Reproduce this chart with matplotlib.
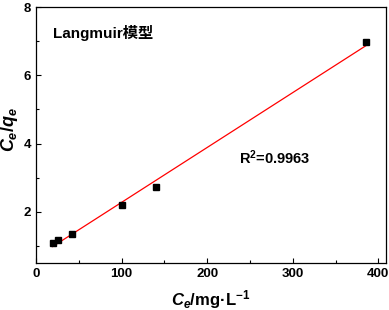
import numpy as np
import matplotlib
matplotlib.use("Agg")
import matplotlib.pyplot as plt
from matplotlib.ticker import MultipleLocator

plt.rcParams['font.family'] = ['Liberation Sans', 'Noto Sans CJK SC', 'DejaVu Sans']
plt.rcParams['mathtext.fontset'] = 'custom'
plt.rcParams['mathtext.it'] = 'Liberation Sans:bold:italic'
plt.rcParams['mathtext.rm'] = 'Liberation Sans:bold'
plt.rcParams['mathtext.bf'] = 'Liberation Sans:bold'

ce = [19.4, 25.2, 41.9, 100.6, 140.2, 386.0]
ce_qe = [1.08, 1.18, 1.35, 2.19, 2.72, 6.96]
x_ticks = [0, 100, 200, 300, 400]
y_ticks = [2, 4, 6, 8]
model_label = "Langmuir模型"
r2_label = "R$^{2}$=0.9963"

fig = plt.figure(figsize=(3.89, 3.10), dpi=100)
ax = fig.add_axes([36/389, 1 - 263/310, (386-36)/389, (263-7)/310])

slope, intercept = np.polyfit(ce, ce_qe, 1)
xf = np.array([min(ce), max(ce)])
ax.plot(xf, slope * xf + intercept, color='red', lw=0.9, zorder=2)
ax.plot(ce, ce_qe, 's', color='black', ms=4.3, zorder=3)

ax.set_xlim(0, 409)
ax.set_ylim(0.5, 8)
ax.set_xticks(x_ticks)
ax.set_yticks(y_ticks)
ax.xaxis.set_minor_locator(MultipleLocator(50))
ax.yaxis.set_minor_locator(MultipleLocator(1))
ax.tick_params(which='both', direction='in', labelsize=9.5, width=0.8)
ax.tick_params(which='major', length=3.5)
ax.tick_params(which='minor', length=2)
for lab in ax.get_xticklabels() + ax.get_yticklabels():
    lab.set_fontweight('bold')
for s in ax.spines.values():
    s.set_linewidth(0.9)

ax.set_xlabel(r"$C_e$/mg·L$^{-1}$", fontsize=12, fontweight='bold', labelpad=6)
ax.set_ylabel(r"$C_e$/$q_e$", fontsize=13, fontweight='bold',
              va='center', ha='center')
ax.yaxis.set_label_coords((10 - 36) / 350, (263 - 129) / 256)

ax.text(53/389, 1 - 33/310, model_label, transform=fig.transFigure,
        fontsize=11, fontweight='bold', ha='left', va='center')
ax.text(239/389, 1 - 158/310, r2_label, transform=fig.transFigure,
        fontsize=10.5, fontweight='bold', ha='left', va='center')

fig.savefig("out.png", dpi=100)
